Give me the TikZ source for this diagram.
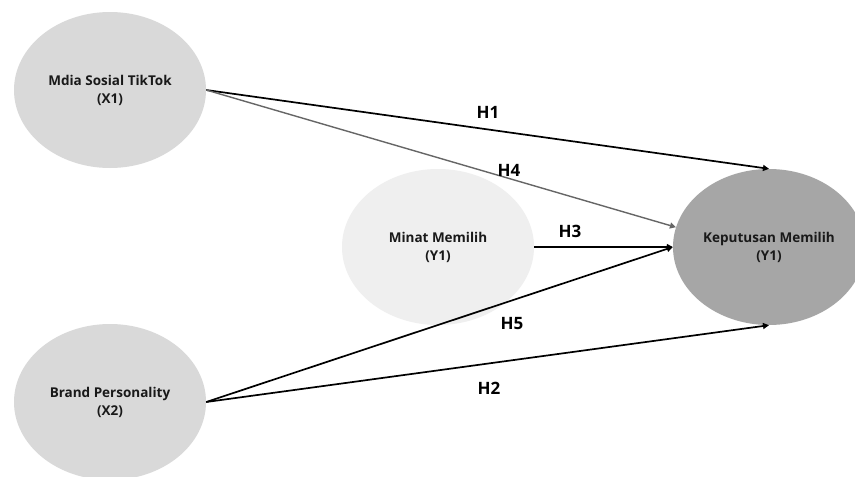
\documentclass[tikz,border=0pt]{standalone}
\usepackage{fontspec}
\setmainfont{Open Sans}
\usetikzlibrary{shapes.geometric,arrows.meta}
\definecolor{xfill}{HTML}{D9D9D9}
\definecolor{mfill}{HTML}{EFEFEF}
\definecolor{kfill}{HTML}{A6A6A6}
\definecolor{garrow}{HTML}{666666}
\tikzset{
  latent/.style={ellipse, draw=none, inner sep=0pt, minimum width=192pt, minimum height=156pt,
    align=center, font=\bfseries\fontsize{13.5}{18}\selectfont, text=black!90},
  path/.style={line width=1.7pt, draw=black, -{Triangle[length=6pt,width=6pt]}},
  gpath/.style={line width=1.4pt, draw=garrow, -{Triangle[length=6pt,width=6pt]}},
  hlab/.style={font=\bfseries\fontsize{17}{18}\selectfont, text=black, inner sep=0pt}
}
\begin{document}
\begin{tikzpicture}[x=1pt,y=-1pt]
\useasboundingbox (0,0) rectangle (855,477);
\clip (0,0) rectangle (855,477);
\fill[white] (0,0) rectangle (855,477);
\node[latent, fill=xfill] (x1) at (110,90) {Mdia Sosial TikTok\\(X1)};
\node[latent, fill=xfill] (x2) at (110,402) {Brand Personality\\(X2)};
\node[latent, fill=mfill] (m) at (438,247) {Minat Memilih\\(Y1)};
\node[latent, fill=kfill] (k) at (769,247) {Keputusan Memilih\\(Y1)};
\draw[path] (x1.east) -- (k.north);
\draw[gpath] (x1.east) -- (k.168);
\draw[path] (m.east) -- (k.west);
\draw[path] (x2.east) -- (k.west);
\draw[path] (x2.east) -- (k.south);
\node[hlab] (h1) at (488,112) {H1};
\node[hlab] (h4) at (509,170) {H4};
\node[hlab] (h3) at (570,231) {H3};
\node[hlab] (h5) at (512,324) {H5};
\node[hlab] (h2) at (489,388) {H2};
\end{tikzpicture}
\end{document}
